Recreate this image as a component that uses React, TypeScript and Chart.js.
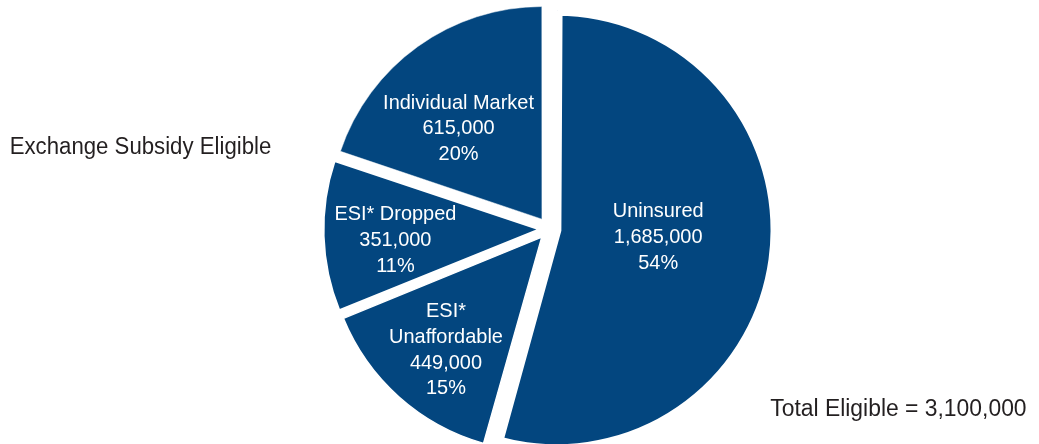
import React, { useEffect, useRef } from "react";
import { Chart, registerables } from "chart.js";

Chart.register(...registerables);

// ---- data ----
const categories = ["Uninsured", "ESI* Unaffordable", "ESI* Dropped", "Individual Market"];
const labelLines = [["Uninsured"], ["ESI*", "Unaffordable"], ["ESI* Dropped"], ["Individual Market"]];
const values = [1685000, 449000, 351000, 615000];
const percentLabels = ["54%", "15%", "11%", "20%"];
const groupNote = "Exchange Subsidy Eligible";
const totalLabel = "Total Eligible";

const SLICE_COLOR = "#03467f";
const FONT = '"Liberation Sans", Arial, sans-serif';

// label placement inside each slice (fraction of radius, angle nudge in degrees)
const labelRadiusFrac = [0.516, 0.743, 0.726, 0.644];
const labelAngleNudge = [-4.35, -0.9, -1.8, -5.8];

const fmt = (v: number) => v.toLocaleString("en-US");

function drawText(ctx: CanvasRenderingContext2D, t: string, x: number, y: number, sx: number) {
  ctx.save();
  ctx.translate(x, y);
  ctx.scale(sx, 1);
  ctx.fillText(t, 0, 0);
  ctx.restore();
}

const labelPlugin = {
  id: "sliceLabels",
  afterDatasetsDraw(chart: any) {
    const ctx: CanvasRenderingContext2D = chart.ctx;
    const meta = chart.getDatasetMeta(0);
    ctx.save();
    ctx.fillStyle = "#ffffff";
    ctx.font = `21px ${FONT}`;
    ctx.textAlign = "center";
    ctx.textBaseline = "alphabetic";
    const lh = 25.7;
    const cap = 15;
    meta.data.forEach((el: any, i: number) => {
      const mid = (el.startAngle + el.endAngle) / 2 + (labelAngleNudge[i] * Math.PI) / 180;
      const r = labelRadiusFrac[i] * el.outerRadius;
      const x = el.x + Math.cos(mid) * r;
      const y = el.y + Math.sin(mid) * r;
      const lines = [...labelLines[i], fmt(values[i]), percentLabels[i]];
      const first = y - ((lines.length - 1) * lh) / 2 + cap / 2;
      lines.forEach((t, k) => drawText(ctx, t, x, first + k * lh, 0.95));
    });
    // annotations
    ctx.fillStyle = "#231f20";
    ctx.font = `23px ${FONT}`;
    ctx.textAlign = "center";
    drawText(ctx, groupNote, 140.5, 154.3, 0.965);
    const total = values.reduce((a, b) => a + b, 0);
    drawText(ctx, `${totalLabel} = ${fmt(total)}`, 898.4, 416, 0.995);
    ctx.restore();
  },
};

export default function App() {
  const ref = useRef<HTMLCanvasElement>(null);
  useEffect(() => {
    if (!ref.current) return;
    const chart = new Chart(ref.current, {
      type: "pie",
      data: {
        labels: categories,
        datasets: [
          {
            data: values,
            backgroundColor: SLICE_COLOR,
            borderColor: "#ffffff",
            borderWidth: [10.2, 1.4, 1.8, 0.5],
            offset: [29.4, 43.6, 39.8, 48.4],
            borderJoinStyle: "miter",
          } as any,
        ],
      },
      options: {
        responsive: false,
        animation: false,
        events: [],
        radius: 212,
        layout: { padding: { left: 59, right: 0, top: 14, bottom: 0 } },
        plugins: {
          legend: { display: false },
          tooltip: { enabled: false },
          title: { display: false },
        },
      } as any,
      plugins: [labelPlugin],
    });
    return () => chart.destroy();
  }, []);
  return (
    <div style={{ position: "absolute", left: 0, top: 0, width: 1039, height: 444, background: "#fff" }}>
      <canvas ref={ref} width={1039} height={444} style={{ display: "block" }} />
    </div>
  );
}
